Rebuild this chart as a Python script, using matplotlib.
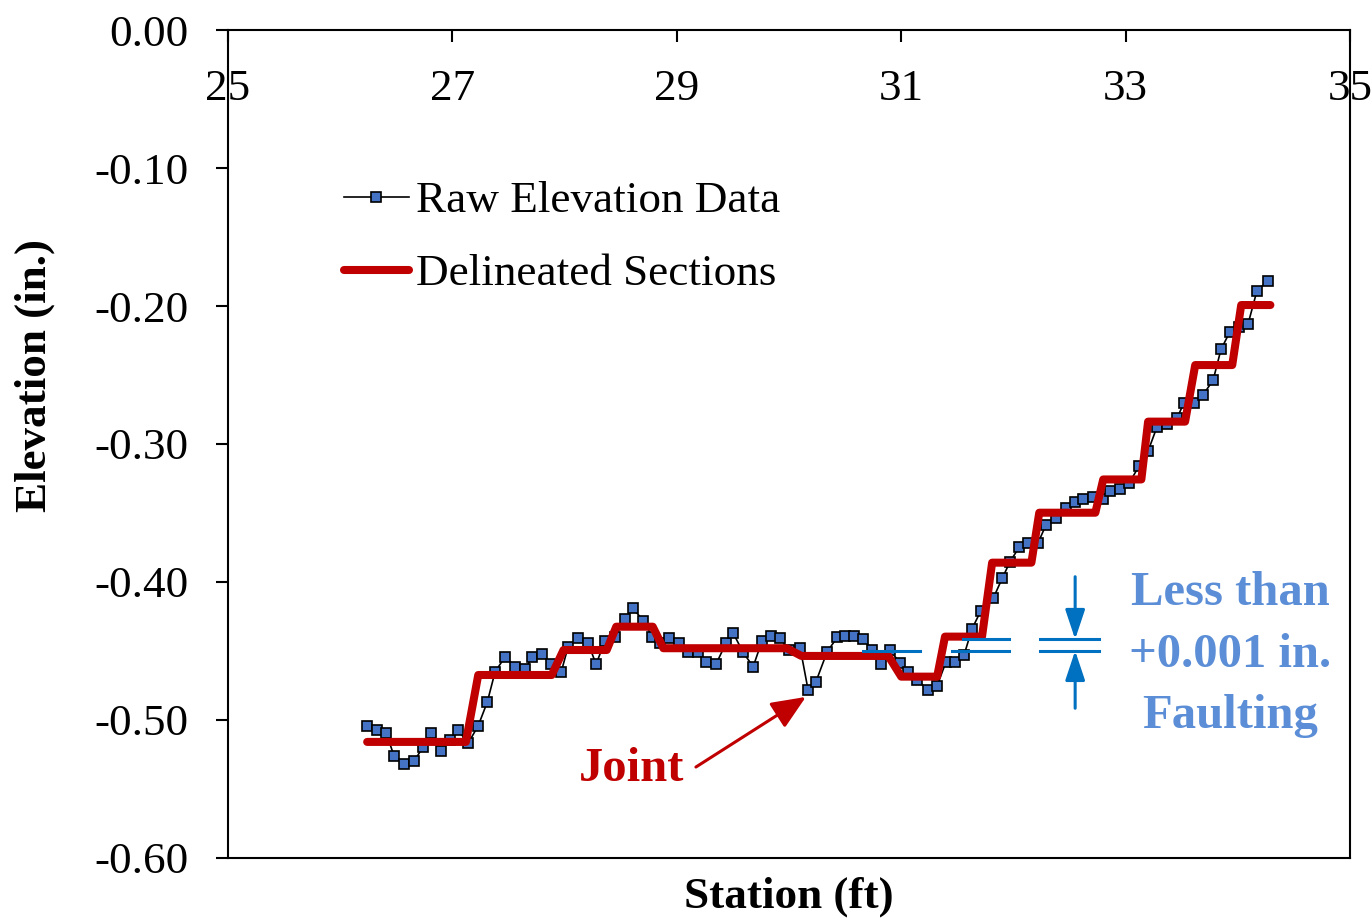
import matplotlib
matplotlib.use('Agg')
import matplotlib.pyplot as plt
from matplotlib.ticker import FormatStrFormatter

plt.rcParams['font.family'] = ['Liberation Serif', 'DejaVu Serif']
plt.rcParams['axes.unicode_minus'] = False

# raw profile (station in ft, elevation in in.)
station = [26.24, 26.33, 26.41, 26.48, 26.57, 26.66, 26.74, 26.81, 26.90, 26.98,
           27.05, 27.14, 27.23, 27.31, 27.38, 27.47, 27.56, 27.65, 27.71, 27.80,
           27.88, 27.97, 28.03, 28.12, 28.21, 28.28, 28.36, 28.45, 28.54, 28.61,
           28.70, 28.78, 28.85, 28.93, 29.02, 29.10, 29.19, 29.26, 29.35, 29.44,
           29.50, 29.59, 29.68, 29.76, 29.84, 29.92, 30.00, 30.10, 30.17, 30.24,
           30.34, 30.43, 30.50, 30.58, 30.66, 30.74, 30.82, 30.90, 30.99, 31.06,
           31.14, 31.24, 31.32, 31.40, 31.48, 31.56, 31.63, 31.71, 31.82, 31.90,
           31.97, 32.05, 32.13, 32.22, 32.29, 32.38, 32.47, 32.55, 32.62, 32.71,
           32.80, 32.86, 32.95, 33.03, 33.12, 33.20, 33.28, 33.37, 33.46, 33.52,
           33.61, 33.69, 33.78, 33.85, 33.93, 34.01, 34.09, 34.17, 34.27]
elevation = [-0.5041, -0.5072, -0.5096, -0.5261, -0.5321, -0.5297, -0.5193, -0.5096, -0.5225, -0.5145,
             -0.5072, -0.5169, -0.5041, -0.4872, -0.4652, -0.4541, -0.4614, -0.4633, -0.4541, -0.4522,
             -0.4594, -0.4650, -0.4473, -0.4408, -0.4444, -0.4596, -0.4428, -0.4396, -0.4268, -0.4191,
             -0.4280, -0.4396, -0.4442, -0.4408, -0.4440, -0.4509, -0.4509, -0.4577, -0.4594, -0.4440,
             -0.4367, -0.4509, -0.4614, -0.4425, -0.4389, -0.4408, -0.4493, -0.4480, -0.4783, -0.4722,
             -0.4505, -0.4401, -0.4389, -0.4389, -0.4413, -0.4493, -0.4596, -0.4493, -0.4589, -0.4650,
             -0.4710, -0.4783, -0.4751, -0.4577, -0.4577, -0.4529, -0.4341, -0.4208, -0.4118, -0.3973,
             -0.3853, -0.3749, -0.3715, -0.3715, -0.3587, -0.3538, -0.3466, -0.3418, -0.3401, -0.3382,
             -0.3401, -0.3344, -0.3326, -0.3285, -0.3159, -0.3051, -0.2875, -0.2857, -0.2809, -0.2701,
             -0.2701, -0.2645, -0.2536, -0.2314, -0.2186, -0.2152, -0.2133, -0.1891, -0.1817]

# delineated sections (step outline)
sec_x = [26.24, 27.12, 27.23, 27.885, 27.99, 28.375, 28.46, 28.785, 28.88, 29.98,
         30.11, 30.885, 31.00, 31.32, 31.39, 31.72, 31.81, 32.16, 32.23, 32.73,
         32.80, 33.14, 33.20, 33.53, 33.62, 33.95, 34.03, 34.29]
sec_y = [-0.5159, -0.5159, -0.4674, -0.4674, -0.4493, -0.4493, -0.4324, -0.4324, -0.4480, -0.4480,
         -0.4536, -0.4536, -0.4686, -0.4686, -0.4396, -0.4396, -0.3860, -0.3860, -0.3498, -0.3498,
         -0.3257, -0.3257, -0.2838, -0.2838, -0.2428, -0.2428, -0.1993, -0.1993]

x_ticks = [25, 27, 29, 31, 33, 35]
y_ticks = [0.0, -0.1, -0.2, -0.3, -0.4, -0.5, -0.6]

fault_upper = -0.4415
fault_lower = -0.4498

blue = '#0070C0'
red = '#C00000'
fs = 32.5

fig = plt.figure(figsize=(13.72, 9.18), dpi=100)
ax = fig.add_axes([0.1662, 0.0654, 0.8178, 0.9019])

ax.plot(station, elevation, color='black', lw=1.2, marker='s', markersize=6.8,
        markerfacecolor='#4472C4', markeredgecolor='black', markeredgewidth=1.2,
        label='Raw Elevation Data', zorder=3)
ax.plot(sec_x, sec_y, color=red, lw=5.8, solid_capstyle='round', solid_joinstyle='round',
        label='Delineated Sections', zorder=4)

# faulting marks
ax.plot([30.66, 31.17], [fault_lower, fault_lower], color=blue, lw=2.2, zorder=5)
ax.plot([31.45, 31.96], [fault_lower, fault_lower], color=blue, lw=2.2, zorder=5)
ax.plot([31.55, 31.96], [fault_upper, fault_upper], color=blue, lw=2.2, zorder=5)
ax.plot([32.24, 32.76], [fault_upper, fault_upper], color=blue, lw=2.2, zorder=5)
ax.plot([32.24, 32.76], [fault_lower, fault_lower], color=blue, lw=2.2, zorder=5)
astyle = dict(arrowstyle='-|>,head_length=0.6,head_width=0.2', mutation_scale=30,
              color=blue, lw=2.2, shrinkA=0, shrinkB=0)
ax.annotate('', xy=(32.55, fault_upper), xytext=(32.55, -0.3962), arrowprops=astyle, zorder=5)
ax.annotate('', xy=(32.55, fault_lower), xytext=(32.55, -0.4915), arrowprops=astyle, zorder=5)

tcol = '#5B8ED6'
ax.text(33.93, -0.4167, 'Less than', ha='center', va='baseline', fontsize=35,
        fontweight='bold', color=tcol)
ax.text(33.93, -0.4614, '+0.001 in.', ha='center', va='baseline', fontsize=35,
        fontweight='bold', color=tcol)
ax.text(33.93, -0.5060, 'Faulting', ha='center', va='baseline', fontsize=35,
        fontweight='bold', color=tcol)

ax.text(28.60, -0.5442, 'Joint', ha='center', va='baseline', fontsize=35,
        fontweight='bold', color=red)
ax.annotate('', xy=(30.15, -0.4833), xytext=(29.17, -0.5341),
            arrowprops=dict(arrowstyle='-|>,head_length=0.7,head_width=0.3', mutation_scale=30,
                            color=red, lw=2.2, shrinkA=0, shrinkB=0))

ax.set_xlim(25, 35)
ax.set_ylim(-0.6, 0)
ax.set_xticks(x_ticks)
ax.set_yticks(y_ticks)
ax.yaxis.set_major_formatter(FormatStrFormatter('%.2f'))
ax.xaxis.set_ticks_position('top')
ax.tick_params(axis='x', direction='in', length=8.6, width=1.5, labeltop=True,
               labelbottom=False, pad=-57, labelsize=fs)
ax.tick_params(axis='y', direction='out', length=8.6, width=1.5, pad=20, labelsize=fs)
for sp in ax.spines.values():
    sp.set_linewidth(1.5)

ax.set_xlabel('Station (ft)', fontsize=fs, fontweight='bold', labelpad=13)
ax.xaxis.set_label_position('bottom')
ax.set_ylabel('Elevation (in.)', fontsize=fs, fontweight='bold')
ax.yaxis.set_label_coords(-0.154, 0.583)

ax.legend(loc='upper left', bbox_to_anchor=(0.103, 0.818), frameon=False, fontsize=fs,
          handlelength=1.45, handletextpad=0.15, labelspacing=0.72,
          borderaxespad=0, borderpad=0)

fig.savefig('out.png', dpi=100)
